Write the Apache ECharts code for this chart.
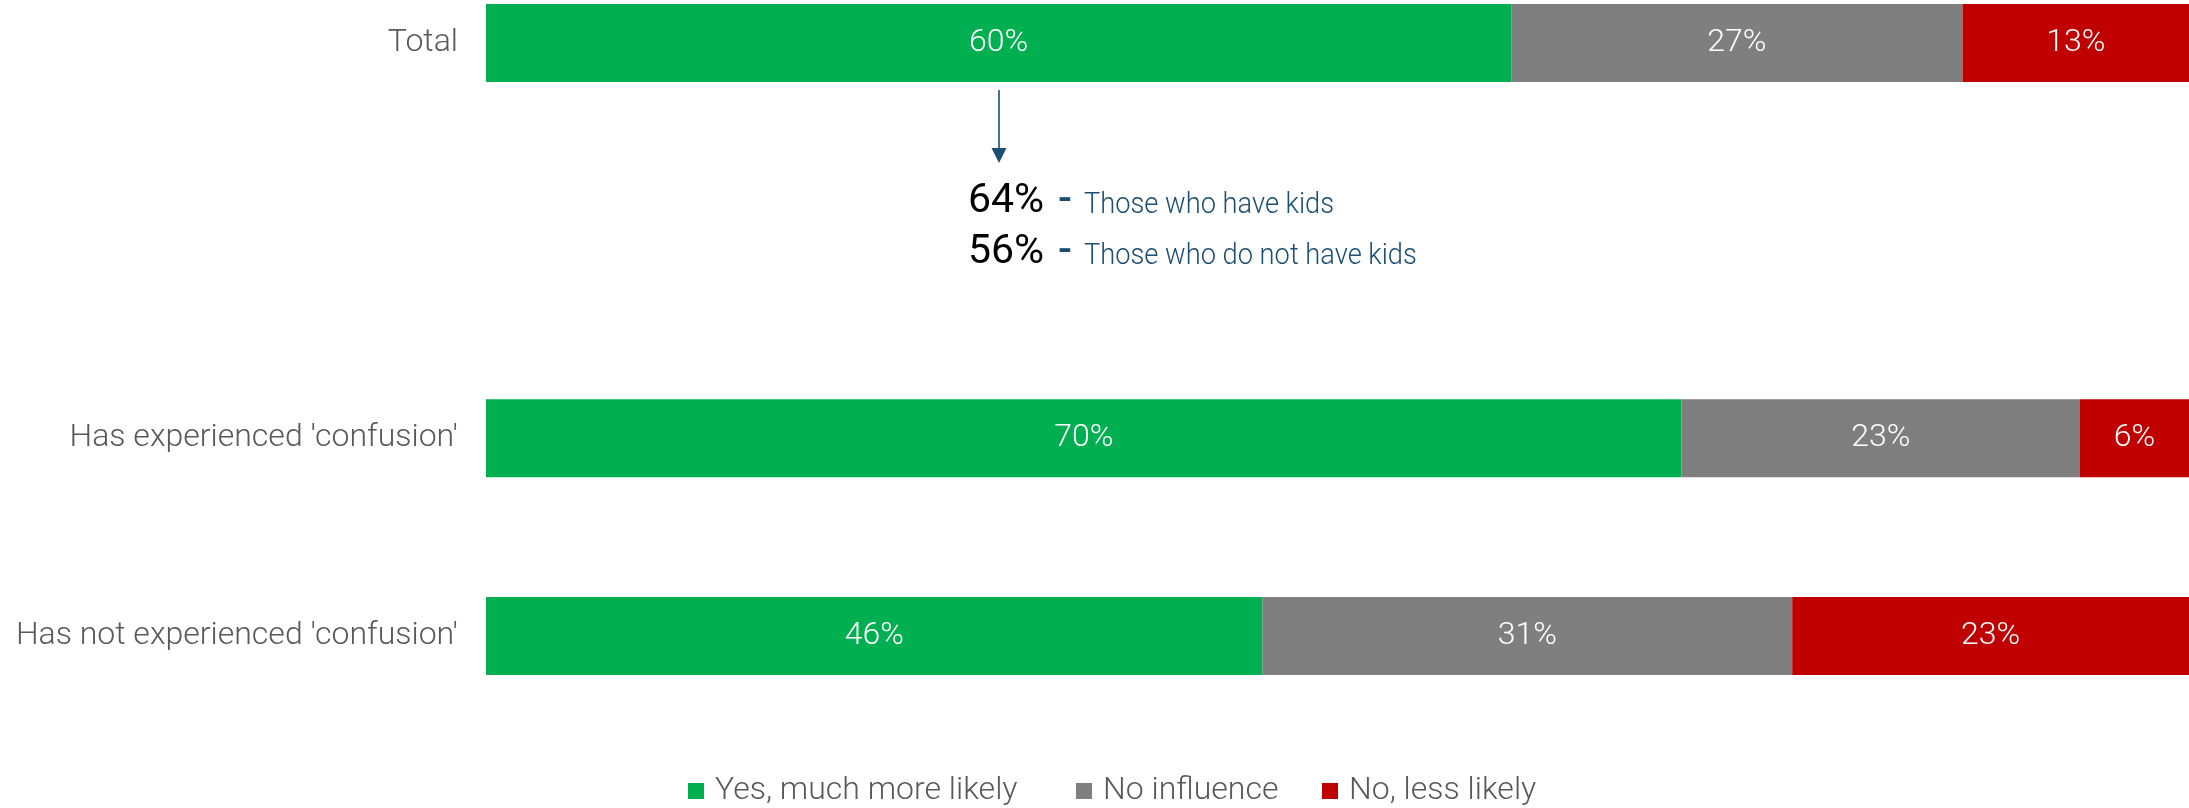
<!DOCTYPE html>
<html>
<head>
<meta charset="utf-8">
<script src="https://cdn.jsdelivr.net/npm/echarts@6/dist/echarts.min.js"></script>
<style>
html,body{margin:0;padding:0;background:#fff;}
#main{width:2189px;height:808px;}
</style>
</head>
<body>
<div id="main"></div>
<script>
// ---- data ----
var categories = ['Total', '', "Has experienced 'confusion'", "Has not experienced 'confusion'"];
var seriesNames = ['Yes, much more likely', 'No influence', 'No, less likely'];
var yesValues = [60.2, null, 70.2, 45.6];
var noInfluenceValues = [26.5, null, 23.4, 31.1];
var lessLikelyValues = [13.3, null, 6.4, 23.3];
var subgroupPct = ['64%', '56%'];
var subgroupText = ['Those who have kids', 'Those who do not have kids'];

var colors = ['#00B050', '#7F7F7F', '#C00000'];
var FONT = 'Roboto';

var chart = echarts.init(document.getElementById('main'), null, {renderer: 'canvas'});

function makeSeries(name, data, color) {
  return {
    name: name,
    type: 'bar',
    stack: 'total',
    barWidth: 78,
    data: data,
    itemStyle: {color: color},
    emphasis: {disabled: true},
    label: {
      show: true,
      position: 'inside',
      color: '#ffffff',
      fontFamily: FONT,
      fontWeight: 300,
      fontSize: 32,
      formatter: function (p) { return p.value == null ? '' : Math.round(p.value) + '%'; }
    }
  };
}

var legendLefts = [688, 1076, 1322];
var legends = seriesNames.map(function (name, i) {
  return {
    left: legendLefts[i],
    top: 775,
    padding: 0,
    itemWidth: 16,
    itemHeight: 16,
    icon: 'rect',
    selectedMode: false,
    data: [name],
    textStyle: {color: '#595959', fontFamily: FONT, fontWeight: 300, fontSize: 32, padding: [0, 0, 0, 6]}
  };
});

chart.setOption({
  animation: false,
  backgroundColor: '#ffffff',
  grid: {left: 486, right: 0, top: 43, bottom: 172, containLabel: false, outerBoundsMode: 'none'},
  xAxis: {type: 'value', min: 0, max: 100, show: false},
  yAxis: {
    type: 'category',
    inverse: true,
    boundaryGap: false,
    data: categories,
    axisLine: {show: false},
    axisTick: {show: false},
    splitLine: {show: false},
    axisLabel: {
      margin: 28,
      color: '#595959',
      fontFamily: FONT,
      fontWeight: 300,
      fontSize: 32
    }
  },
  legend: legends,
  series: [
    makeSeries(seriesNames[0], yesValues, colors[0]),
    makeSeries(seriesNames[1], noInfluenceValues, colors[1]),
    makeSeries(seriesNames[2], lessLikelyValues, colors[2])
  ]
});

// annotation anchored at the centre of the green "Total" segment
var anchor = chart.convertToPixel({xAxisIndex: 0, yAxisIndex: 0}, [yesValues[0] / 2, categories[0]]);
var ax = Math.round(anchor[0]);
var ay = anchor[1];
var annoColor = '#1A4E72';
var graphics = [
  {type: 'line', shape: {x1: ax, y1: ay + 47, x2: ax, y2: ay + 108}, style: {stroke: '#457596', lineWidth: 2}, silent: true},
  {type: 'polygon', shape: {points: [[ax - 7.5, ay + 105], [ax + 7.5, ay + 105], [ax, ay + 120]]}, style: {fill: annoColor}, silent: true}
];
var baselines = [ay + 171, ay + 222];
for (var i = 0; i < subgroupPct.length; i++) {
  var b = baselines[i];
  graphics.push({type: 'text', x: ax - 31, y: b - 0.292 * 41, silent: true,
    style: {text: subgroupPct[i], fill: '#000000', font: '400 41px ' + FONT, verticalAlign: 'middle', align: 'left'}});
  graphics.push({type: 'text', x: ax + 59, y: b - 0.292 * 41, silent: true,
    style: {text: '-', fill: annoColor, font: '500 41px ' + FONT, verticalAlign: 'middle', align: 'left'}});
  graphics.push({type: 'text', x: ax + 85, y: b - 0.292 * 29, scaleX: 0.94, silent: true,
    style: {text: subgroupText[i], fill: annoColor, font: '300 29px ' + FONT, verticalAlign: 'middle', align: 'left'}});
}
chart.setOption({graphic: graphics});
</script>
</body>
</html>
